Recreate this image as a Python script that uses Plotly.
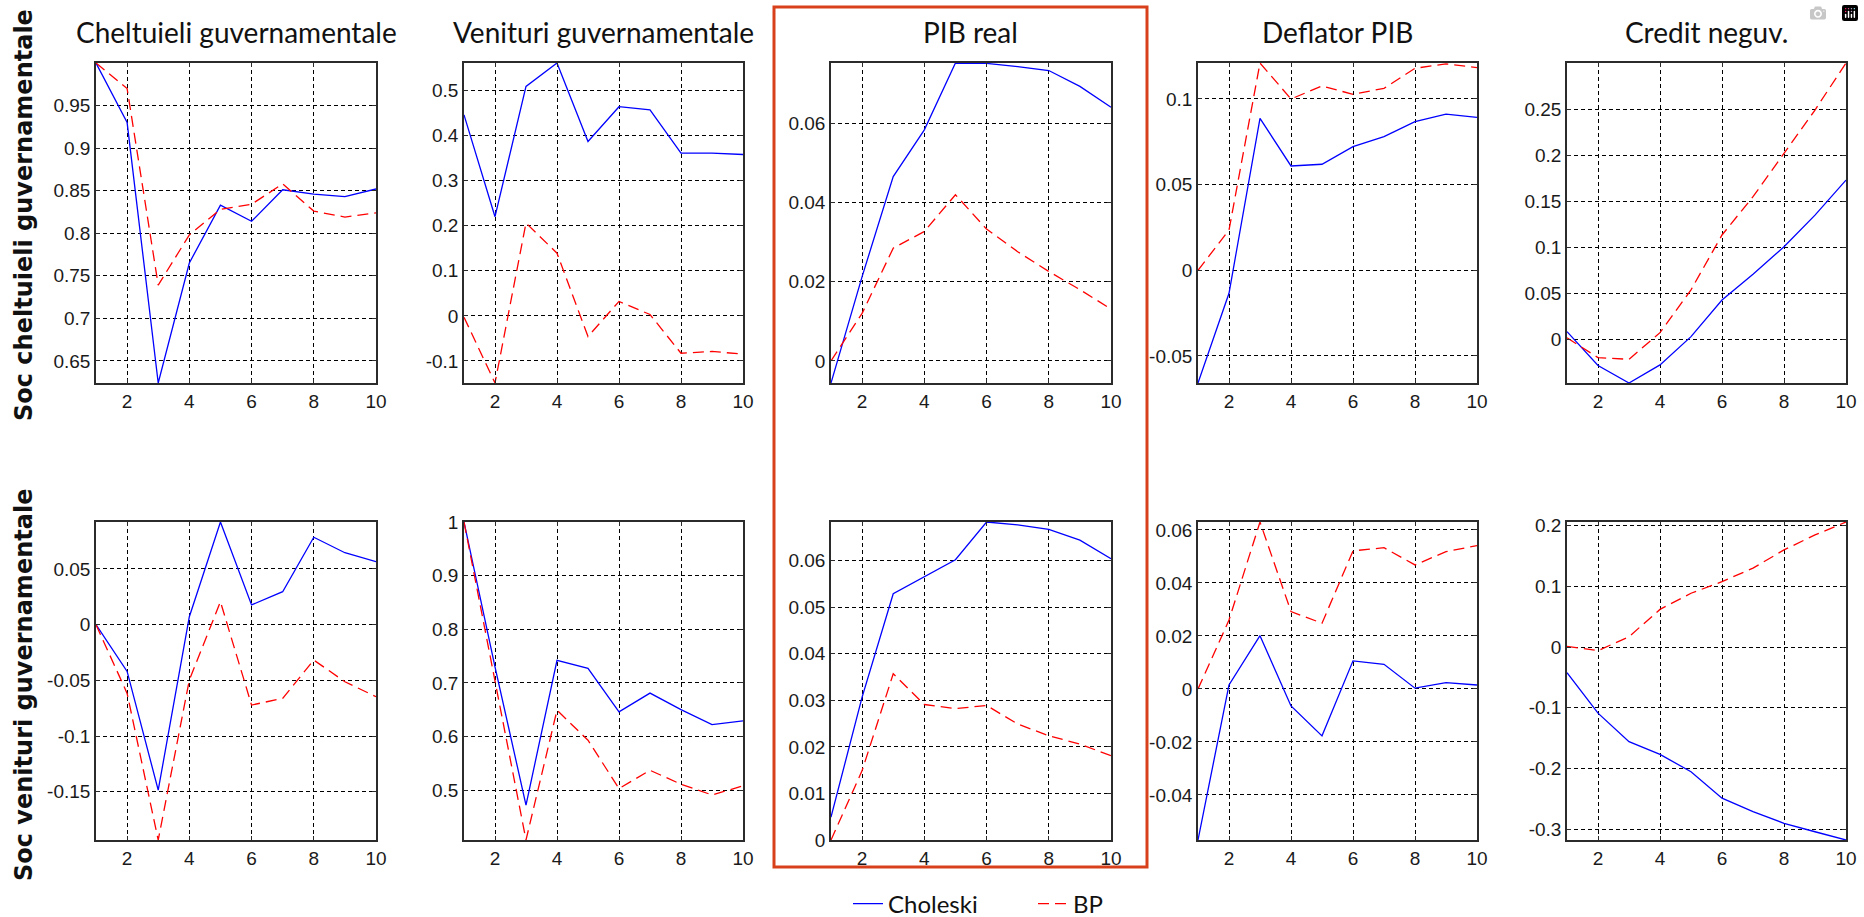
import plotly.graph_objects as go

# ---------------- data ----------------
periods = [1, 2, 3, 4, 5, 6, 7, 8, 9, 10]

col_titles = ["Cheltuieli guvernamentale", "Venituri guvernamentale", "PIB real",
              "Deflator PIB", "Credit neguv."]
row_titles = ["Soc cheltuieli guvernamentale", "Soc venituri guvernamentale"]
series_names = ["Choleski", "BP"]

# Row 1: shock to government spending
chol_r1_chelt = [1.0, 0.93, 0.624, 0.765, 0.833, 0.814, 0.851, 0.846, 0.843, 0.852]
bp_r1_chelt = [1.0, 0.97, 0.739, 0.798, 0.828, 0.834, 0.858, 0.826, 0.819, 0.824]
chol_r1_venit = [0.446, 0.22, 0.509, 0.561, 0.387, 0.464, 0.457, 0.361, 0.361, 0.358]
bp_r1_venit = [-0.003, -0.149, 0.206, 0.139, -0.046, 0.032, 0.003, -0.083, -0.079, -0.085]
chol_r1_pib = [-0.0056, 0.0213, 0.0466, 0.0584, 0.0753, 0.0752, 0.0744, 0.0734, 0.0694, 0.0641]
bp_r1_pib = [0.0, 0.012, 0.0285, 0.0327, 0.042, 0.0333, 0.0276, 0.0226, 0.018, 0.0131]
chol_r1_defl = [-0.0658, -0.0134, 0.0887, 0.0609, 0.0619, 0.0722, 0.078, 0.0868, 0.0912, 0.0893]
bp_r1_defl = [0.0, 0.0235, 0.121, 0.1, 0.1076, 0.1027, 0.1062, 0.1179, 0.1205, 0.1183]
chol_r1_cred = [0.0087, -0.028, -0.047, -0.0274, 0.0033, 0.043, 0.0709, 0.1008, 0.135, 0.173]
bp_r1_cred = [0.002, -0.0195, -0.0213, 0.0076, 0.054, 0.1135, 0.155, 0.202, 0.249, 0.30]

# Row 2: shock to government revenues
chol_r2_chelt = [0.0, -0.042, -0.1486, 0.0071, 0.0922, 0.0177, 0.0296, 0.0785, 0.0646, 0.0566]
bp_r2_chelt = [0.0, -0.0617, -0.1934, -0.0497, 0.0206, -0.0722, -0.0662, -0.0318, -0.0513, -0.0647]
chol_r2_venit = [1.0, 0.73, 0.472, 0.742, 0.727, 0.646, 0.681, 0.65, 0.622, 0.629]
bp_r2_venit = [1.0, 0.705, 0.407, 0.649, 0.593, 0.503, 0.537, 0.511, 0.491, 0.508]
chol_r2_pib = [0.0049, 0.0307, 0.0529, 0.0565, 0.0602, 0.0683, 0.0677, 0.0667, 0.0644, 0.0604]
bp_r2_pib = [0.0, 0.0149, 0.0357, 0.0291, 0.0282, 0.0289, 0.0249, 0.0224, 0.0206, 0.0181]
chol_r2_defl = [-0.057, 0.0015, 0.0201, -0.0064, -0.0177, 0.0106, 0.0093, 0.0003, 0.0024, 0.0015]
bp_r2_defl = [0.0, 0.026, 0.063, 0.0292, 0.0248, 0.0521, 0.0533, 0.0468, 0.0518, 0.0541]
chol_r2_cred = [-0.0423, -0.109, -0.156, -0.177, -0.2055, -0.249, -0.2714, -0.2905, -0.3044, -0.318]
bp_r2_cred = [0.001, -0.006, 0.017, 0.062, 0.0886, 0.1077, 0.13, 0.16, 0.1847, 0.206]

x_tickvals = [2, 4, 6, 8, 10]
x_ticktext = ["2", "4", "6", "8", "10"]

ytick_vals = [
    [[0.65, 0.7, 0.75, 0.8, 0.85, 0.9, 0.95], [-0.1, 0, 0.1, 0.2, 0.3, 0.4, 0.5],
     [0, 0.02, 0.04, 0.06], [-0.05, 0, 0.05, 0.1], [0, 0.05, 0.1, 0.15, 0.2, 0.25]],
    [[-0.15, -0.1, -0.05, 0, 0.05], [0.5, 0.6, 0.7, 0.8, 0.9, 1],
     [0, 0.01, 0.02, 0.03, 0.04, 0.05, 0.06], [-0.04, -0.02, 0, 0.02, 0.04, 0.06],
     [-0.3, -0.2, -0.1, 0, 0.1, 0.2]],
]
ytick_text = [
    [["0.65", "0.7", "0.75", "0.8", "0.85", "0.9", "0.95"],
     ["-0.1", "0", "0.1", "0.2", "0.3", "0.4", "0.5"],
     ["0", "0.02", "0.04", "0.06"], ["-0.05", "0", "0.05", "0.1"],
     ["0", "0.05", "0.1", "0.15", "0.2", "0.25"]],
    [["-0.15", "-0.1", "-0.05", "0", "0.05"], ["0.5", "0.6", "0.7", "0.8", "0.9", "1"],
     ["0", "0.01", "0.02", "0.03", "0.04", "0.05", "0.06"],
     ["-0.04", "-0.02", "0", "0.02", "0.04", "0.06"],
     ["-0.3", "-0.2", "-0.1", "0", "0.1", "0.2"]],
]

chol = [[chol_r1_chelt, chol_r1_venit, chol_r1_pib, chol_r1_defl, chol_r1_cred],
        [chol_r2_chelt, chol_r2_venit, chol_r2_pib, chol_r2_defl, chol_r2_cred]]
bp = [[bp_r1_chelt, bp_r1_venit, bp_r1_pib, bp_r1_defl, bp_r1_cred],
      [bp_r2_chelt, bp_r2_venit, bp_r2_pib, bp_r2_defl, bp_r2_cred]]

# ---------------- layout geometry ----------------
W, H = 1864, 917
col_px = [(96, 376), (464, 743), (831, 1111), (1198, 1477), (1567, 1846)]
row_px = [(63, 383), (522, 840)]

TICK_FONT = dict(family="Liberation Sans, Arial, sans-serif", size=19, color="#1a1a1a")
TITLE_FONT = dict(family="Lato, Open Sans, sans-serif", size=28, color="#111111")

fig = go.Figure()
layout = {}
annotations = []

for r in range(2):
    for c in range(5):
        k = r * 5 + c + 1
        xa = "x" if k == 1 else f"x{k}"
        ya = "y" if k == 1 else f"y{k}"
        ys = chol[r][c] + bp[r][c]
        lo, hi = min(ys), max(ys)
        fig.add_trace(go.Scatter(x=periods, y=chol[r][c], mode="lines", name=series_names[0],
                                 line=dict(color="#0000ff", width=1.3),
                                 xaxis=xa, yaxis=ya, showlegend=(k == 1), legendgroup="c"))
        fig.add_trace(go.Scatter(x=periods, y=bp[r][c], mode="lines", name=series_names[1],
                                 line=dict(color="#ff0000", width=1.3, dash="11px,6px"),
                                 xaxis=xa, yaxis=ya, showlegend=(k == 1), legendgroup="b"))
        x0, x1 = col_px[c]
        y0, y1 = row_px[r]
        common = dict(showline=True, linecolor="#2b2b2b", linewidth=1.6, mirror="ticks",
                      ticks="inside", ticklen=4, tickcolor="#2b2b2b", tickfont=TICK_FONT,
                      showgrid=True, gridcolor="#000000", gridwidth=1, griddash="4px,3px",
                      zeroline=False, fixedrange=True)
        layout["xaxis" if k == 1 else f"xaxis{k}"] = dict(
            domain=[x0 / W, x1 / W], anchor=ya, range=[1, 10],
            tickvals=x_tickvals, ticktext=x_ticktext, **common)
        layout["yaxis" if k == 1 else f"yaxis{k}"] = dict(
            domain=[1 - y1 / H, 1 - y0 / H], anchor=xa, range=[lo, hi],
            tickvals=ytick_vals[r][c], ticktext=ytick_text[r][c], **common)
        if r == 0:
            annotations.append(dict(text=col_titles[c], x=(x0 + x1) / 2 / W, y=1 - 32 / H,
                                    xref="paper", yref="paper", showarrow=False,
                                    font=TITLE_FONT, xanchor="center", yanchor="middle"))

row_label_y = [215, 685]
for r in range(2):
    annotations.append(dict(text=row_titles[r], x=24 / W, y=1 - row_label_y[r] / H,
                            xref="paper", yref="paper", showarrow=False, textangle=-90,
                            font=dict(family="DejaVu Sans", size=24, color="#111111",
                                      weight="bold"),
                            xanchor="center", yanchor="middle"))

fig.update_layout(**layout)
fig.update_layout(
    width=W, height=H, margin=dict(l=0, r=0, t=0, b=0, autoexpand=False),
    paper_bgcolor="white", plot_bgcolor="white",
    annotations=annotations,
    shapes=[dict(type="rect", xref="paper", yref="paper",
                 x0=774 / W, x1=1147 / W, y0=1 - 867 / H, y1=1 - 7 / H,
                 line=dict(color="#d8401c", width=3), fillcolor="rgba(0,0,0,0)")],
    showlegend=True,
    legend=dict(orientation="h", xref="container", yref="container",
                x=848 / W, xanchor="left", y=1 - 904 / H, yanchor="middle",
                font=dict(family="Lato, Open Sans, sans-serif", size=24, color="#111111"),
                bgcolor="rgba(0,0,0,0)", itemwidth=30, entrywidth=140, tracegroupgap=0),
)

fig.write_html("out.html", post_script="document.body.style.margin='0';")
